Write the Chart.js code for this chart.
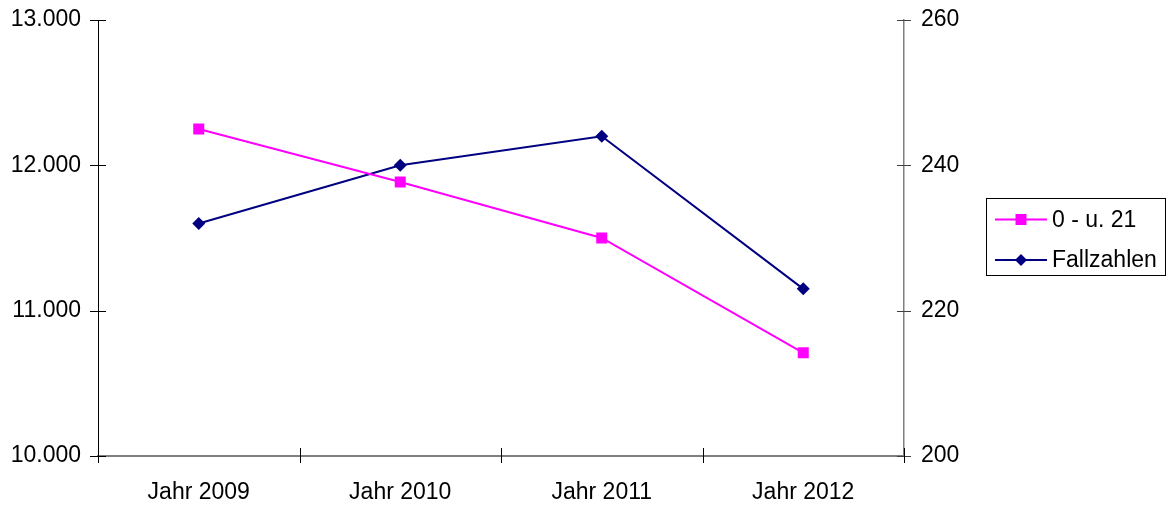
<!DOCTYPE html>
<html lang="de">
<head>
<meta charset="utf-8">
<title>Fallzahlen und Bevölkerung 0 - u. 21</title>
<script src="https://cdn.jsdelivr.net/npm/chart.js@4"></script>
<style>
  html, body { margin: 0; padding: 0; background: #fff; }
  #wrap { width: 1168px; height: 507px; }
</style>
</head>
<body>
<div id="wrap"><canvas id="c" width="1168" height="507"></canvas></div>
<script>
// Categories and series
const years = ['Jahr 2009', 'Jahr 2010', 'Jahr 2011', 'Jahr 2012'];
const youngPopulation = [12250, 11885, 11500, 10710];   // 0 - u. 21 (left axis)
const caseCounts = [232, 240, 244, 223];                 // Fallzahlen (right axis)

// Axis ranges and tick steps
const leftTicks = { min: 10000, max: 13000, step: 1000 };
const rightTicks = { min: 200, max: 260, step: 20 };

const FONT = "'Liberation Sans', Arial, 'DejaVu Sans', sans-serif";
const MAGENTA = '#FF00FF';
const NAVY = '#000080';

function formatThousands(v) {
  return String(Math.round(v)).replace(/\B(?=(\d{3})+(?!\d))/g, '.');
}

// Fixed axis widths; tick labels may overhang the plot edges
function fixVertical(width) {
  return (scale) => {
    scale.width = width;
    scale.paddingTop = 0;
    scale.paddingBottom = 0;
  };
}

// Short tick marks crossing each axis line
const crossTicks = {
  id: 'crossTicks',
  afterDraw(chart) {
    const { ctx, chartArea, scales } = chart;
    const y = scales.y, y1 = scales.y1, x = scales.x;
    ctx.save();
    ctx.lineWidth = 1;
    ctx.strokeStyle = '#000';
    y.ticks.forEach((t, i) => {
      const py = Math.round(y.getPixelForTick(i)) + 0.5;
      ctx.beginPath();
      ctx.moveTo(chartArea.left - 8, py);
      ctx.lineTo(chartArea.left + 8, py);
      ctx.stroke();
    });
    ctx.strokeStyle = '#404040';
    y1.ticks.forEach((t, i) => {
      const py = Math.round(y1.getPixelForTick(i)) + 0.5;
      ctx.beginPath();
      ctx.moveTo(chartArea.right - 7, py);
      ctx.lineTo(chartArea.right + 7, py);
      ctx.stroke();
    });
    ctx.strokeStyle = '#000';
    for (let i = 0; i <= years.length; i++) {
      const px = Math.round(x.getPixelForValue(i - 0.5)) + 0.5;
      ctx.beginPath();
      ctx.moveTo(px, chartArea.bottom - 8);
      ctx.lineTo(px, chartArea.bottom + 7);
      ctx.stroke();
    }
    ctx.restore();
  }
};

// Boxed legend at the right of the plot
const boxedLegend = {
  id: 'boxedLegend',
  afterDraw(chart) {
    const { ctx } = chart;
    const box = { x: 986.5, y: 198.5, w: 179, h: 77 };
    ctx.save();
    ctx.strokeStyle = '#000';
    ctx.lineWidth = 1;
    ctx.strokeRect(box.x, box.y, box.w, box.h);
    const rows = [219.5, 260];
    chart.data.datasets.forEach((ds, i) => {
      const cy = rows[i];
      ctx.strokeStyle = ds.borderColor;
      ctx.lineWidth = ds.borderWidth;
      ctx.beginPath();
      ctx.moveTo(995, cy);
      ctx.lineTo(1047, cy);
      ctx.stroke();
      ctx.fillStyle = ds.pointBackgroundColor;
      ctx.beginPath();
      if (ds.pointStyle === 'rect') {
        ctx.rect(1021 - 5.5, cy - 5.5, 11, 11);
      } else {
        ctx.moveTo(1021, cy - 6);
        ctx.lineTo(1027, cy);
        ctx.lineTo(1021, cy + 6);
        ctx.lineTo(1015, cy);
        ctx.closePath();
      }
      ctx.fill();
      ctx.fillStyle = '#000';
      ctx.font = '23px ' + FONT;
      ctx.textBaseline = 'middle';
      ctx.textAlign = 'left';
      ctx.fillText(ds.label, 1052, cy + 1);
    });
    ctx.restore();
  }
};

new Chart(document.getElementById('c'), {
  type: 'line',
  data: {
    labels: years,
    datasets: [
      {
        label: '0 - u. 21',
        data: youngPopulation,
        yAxisID: 'y',
        borderColor: MAGENTA,
        backgroundColor: MAGENTA,
        pointBackgroundColor: MAGENTA,
        pointBorderColor: MAGENTA,
        pointStyle: 'rect',
        pointRadius: 7.8,
        pointBorderWidth: 0,
        borderWidth: 2,
        tension: 0,
        fill: false
      },
      {
        label: 'Fallzahlen',
        data: caseCounts,
        yAxisID: 'y1',
        borderColor: NAVY,
        backgroundColor: NAVY,
        pointBackgroundColor: NAVY,
        pointBorderColor: NAVY,
        pointStyle: 'rectRot',
        pointRadius: 6.5,
        pointBorderWidth: 0,
        borderWidth: 2,
        tension: 0,
        fill: false
      }
    ]
  },
  options: {
    responsive: false,
    animation: false,
    devicePixelRatio: 1,
    layout: { padding: { left: 0, right: 204, top: 20, bottom: 0 } },
    plugins: {
      legend: { display: false },
      tooltip: { enabled: false },
      title: { display: false }
    },
    scales: {
      x: {
        offset: true,
        grid: { display: false, drawTicks: false },
        border: { display: true, color: '#808080', width: 2 },
        ticks: {
          color: '#000',
          font: { family: FONT, size: 23 },
          padding: 23,
          maxRotation: 0
        },
        afterFit(scale) {
          scale.height = 51;
          scale.paddingLeft = 0;
          scale.paddingRight = 0;
        }
      },
      y: {
        position: 'left',
        min: leftTicks.min,
        max: leftTicks.max,
        grid: { display: false, drawTicks: false },
        border: { display: true, color: '#000', width: 1 },
        ticks: {
          stepSize: leftTicks.step,
          color: '#000',
          font: { family: FONT, size: 23 },
          padding: 17,
          callback: (v) => formatThousands(v)
        },
        afterFit: fixVertical(98)
      },
      y1: {
        position: 'right',
        min: rightTicks.min,
        max: rightTicks.max,
        grid: { display: false, drawTicks: false },
        border: { display: true, color: '#808080', width: 1.5 },
        ticks: {
          stepSize: rightTicks.step,
          color: '#000',
          font: { family: FONT, size: 23 },
          padding: 17
        },
        afterFit: fixVertical(60)
      }
    }
  },
  plugins: [crossTicks, boxedLegend]
});
</script>
</body>
</html>
